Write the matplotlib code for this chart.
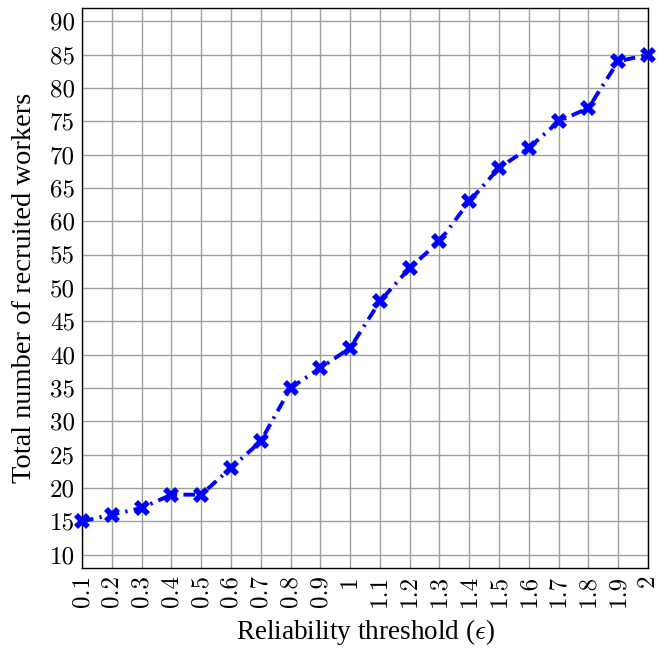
import matplotlib
matplotlib.use("Agg")
import matplotlib.pyplot as plt

# data
thresholds = [0.1, 0.2, 0.3, 0.4, 0.5, 0.6, 0.7, 0.8, 0.9, 1.0,
              1.1, 1.2, 1.3, 1.4, 1.5, 1.6, 1.7, 1.8, 1.9, 2.0]
workers = [15, 16, 17, 19, 19, 23, 27, 35, 38, 41,
           48, 53, 57, 63, 68, 71, 75, 77, 84, 85]
x_labels = ["0.1", "0.2", "0.3", "0.4", "0.5", "0.6", "0.7", "0.8", "0.9", "1",
            "1.1", "1.2", "1.3", "1.4", "1.5", "1.6", "1.7", "1.8", "1.9", "2"]
y_ticks = list(range(10, 95, 5))

plt.rcParams['mathtext.fontset'] = 'cm'
plt.rcParams['axes.formatter.use_mathtext'] = True

fig = plt.figure(figsize=(6.59, 6.49), dpi=100)
ax = fig.add_axes([0.1244, 0.1248, 0.8589, 0.8629])

ax.plot(thresholds, workers, color='#0000ff', linestyle=(0, (3.0, 1.6, 0.6, 1.6)),
        linewidth=2.8, marker='X', markersize=11, markeredgewidth=0,
        zorder=3, clip_on=False)

ax.set_xlim(0.1, 2.0)
ax.set_ylim(8, 92)
ax.set_xticks(thresholds)
ax.set_xticklabels(x_labels, rotation=90, family=['cmr10', 'DejaVu Serif'])
ax.set_yticks(y_ticks)
ax.set_yticklabels([str(v) for v in y_ticks], family=['cmr10', 'DejaVu Serif'])
ax.tick_params(axis='both', labelsize=18, length=0, pad=5)

ax.grid(True, color='#a0a0a0', linewidth=1.0)
ax.set_axisbelow(True)
for s in ax.spines.values():
    s.set_color('black')
    s.set_linewidth(1.0)

ax.set_xlabel(r"Reliability threshold ($\epsilon$)", fontsize=19.5,
              family='Liberation Serif', labelpad=7)
ax.set_ylabel("Total number of recruited workers", fontsize=20.5,
              family='Liberation Serif', labelpad=9)

fig.savefig("out.png", dpi=100)
